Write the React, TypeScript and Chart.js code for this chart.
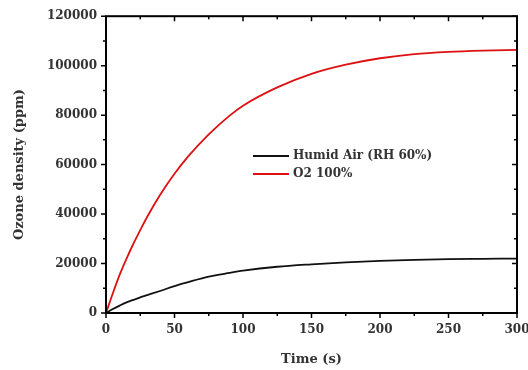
import React, { useEffect, useRef } from 'react';
import { Chart, registerables } from 'chart.js';

Chart.register(...registerables);

const timeS = [0, 5, 10, 15, 20, 25, 30, 40, 50, 60, 75, 90, 100, 125, 150, 175, 200, 225, 250, 275, 300];
const humidAir = [0, 1600, 3000, 4300, 5300, 6300, 7200, 9000, 10900, 12500, 14700, 16200, 17100, 18700, 19700, 20500, 21100, 21500, 21800, 21900, 22000];
const o2 = [0, 8000, 15500, 22000, 28000, 33500, 38800, 48200, 56300, 63300, 72200, 79700, 83800, 91200, 96700, 100400, 103000, 104700, 105600, 106100, 106400];
const seriesLabels = ['Humid Air (RH 60%)', 'O2 100%'];
const seriesColors = ['#111111', '#dd1111'];
const xTicks = [0, 50, 100, 150, 200, 250, 300];
const xMinorTicks = [25, 75, 125, 175, 225, 275];
const yTicks = [0, 20000, 40000, 60000, 80000, 100000, 120000];
const yMinorTicks = [10000, 30000, 50000, 70000, 90000, 110000];
const xTitle = 'Time (s)';
const yTitle = 'Ozone density (ppm)';

const FONT = "'DejaVu Serif', 'Liberation Serif', serif";
const TEXT = '#333333';

const framePlugin = {
  id: 'frameTicks',
  afterDatasetsDraw(chart: any) {
    const { ctx, chartArea: a, scales } = chart;
    const xs = scales.x;
    const ys = scales.y;
    ctx.save();
    ctx.strokeStyle = '#000';
    ctx.lineWidth = 2;
    ctx.strokeRect(a.left, a.top, a.right - a.left, a.bottom - a.top);
    ctx.lineWidth = 1.5;
    const drawX = (v: number, len: number) => {
      const px = xs.getPixelForValue(v);
      ctx.beginPath();
      ctx.moveTo(px, a.bottom);
      ctx.lineTo(px, a.bottom + len);
      ctx.moveTo(px, a.top);
      ctx.lineTo(px, a.top + len);
      ctx.stroke();
    };
    const drawY = (v: number, len: number) => {
      const py = ys.getPixelForValue(v);
      ctx.beginPath();
      ctx.moveTo(a.left, py);
      ctx.lineTo(a.left - len, py);
      ctx.moveTo(a.right, py);
      ctx.lineTo(a.right - len, py);
      ctx.stroke();
    };
    xTicks.forEach((v) => drawX(v, 5));
    xMinorTicks.forEach((v) => drawX(v, 3));
    yTicks.forEach((v) => drawY(v, 5));
    yMinorTicks.forEach((v) => drawY(v, 3));
    ctx.restore();
  },
  afterDraw(chart: any) {
    const { ctx } = chart;
    ctx.save();
    const x0 = 253;
    const x1 = 289;
    const rows = [156, 174];
    ctx.font = `bold 12px ${FONT}`;
    ctx.textBaseline = 'middle';
    ctx.textAlign = 'left';
    seriesLabels.forEach((lab, i) => {
      ctx.strokeStyle = seriesColors[i];
      ctx.lineWidth = 1.8;
      ctx.beginPath();
      ctx.moveTo(x0, rows[i]);
      ctx.lineTo(x1, rows[i]);
      ctx.stroke();
      ctx.fillStyle = TEXT;
      ctx.fillText(lab, x1 + 4, rows[i]);
    });
    ctx.restore();
  },
};

export default function App() {
  const ref = useRef<HTMLCanvasElement | null>(null);
  useEffect(() => {
    if (!ref.current) return;
    const chart = new Chart(ref.current, {
      type: 'line',
      data: {
        datasets: [
          {
            label: seriesLabels[0],
            data: timeS.map((t, i) => ({ x: t, y: humidAir[i] })),
            borderColor: seriesColors[0],
            borderWidth: 1.8,
            pointRadius: 0,
            cubicInterpolationMode: 'monotone',
          },
          {
            label: seriesLabels[1],
            data: timeS.map((t, i) => ({ x: t, y: o2[i] })),
            borderColor: seriesColors[1],
            borderWidth: 1.8,
            pointRadius: 0,
            cubicInterpolationMode: 'monotone',
          },
        ],
      },
      options: {
        responsive: false,
        animation: false,
        layout: { padding: { left: 0, top: 15, right: 11, bottom: 0 } },
        plugins: { legend: { display: false }, tooltip: { enabled: false } },
        scales: {
          x: {
            type: 'linear',
            min: 0,
            max: 300,
            grid: { display: false, drawTicks: false },
            border: { display: false },
            afterBuildTicks: (s: any) => {
              s.ticks = xTicks.map((v) => ({ value: v }));
            },
            afterFit: (s: any) => {
              s.height = 57;
              s.paddingRight = 0;
              s.paddingLeft = 0;
            },
            ticks: {
              padding: 10,
              maxRotation: 0,
              autoSkip: false,
              color: TEXT,
              font: { family: FONT, size: 12, weight: 'bold' },
            },
            title: {
              display: true,
              text: xTitle,
              color: TEXT,
              font: { family: FONT, size: 13, weight: 'bold' },
              padding: { top: 0, bottom: 3 },
            },
          },
          y: {
            type: 'linear',
            min: 0,
            max: 120000,
            grid: { display: false, drawTicks: false },
            border: { display: false },
            afterBuildTicks: (s: any) => {
              s.ticks = yTicks.map((v) => ({ value: v }));
            },
            afterFit: (s: any) => {
              s.width = 106;
            },
            ticks: {
              padding: 9,
              autoSkip: false,
              color: TEXT,
              font: { family: FONT, size: 12, weight: 'bold' },
              callback: (v: any) => String(v),
            },
            title: {
              display: true,
              text: yTitle,
              color: TEXT,
              font: { family: FONT, size: 13, weight: 'bold' },
              padding: { top: 12, bottom: 0 },
            },
          },
        },
      },
      plugins: [framePlugin],
    } as any);
    return () => chart.destroy();
  }, []);
  return (
    <div style={{ position: 'fixed', left: 0, top: 0, width: 528, height: 370, background: '#fff' }}>
      <canvas ref={ref} width={528} height={370} style={{ display: 'block' }} />
    </div>
  );
}
